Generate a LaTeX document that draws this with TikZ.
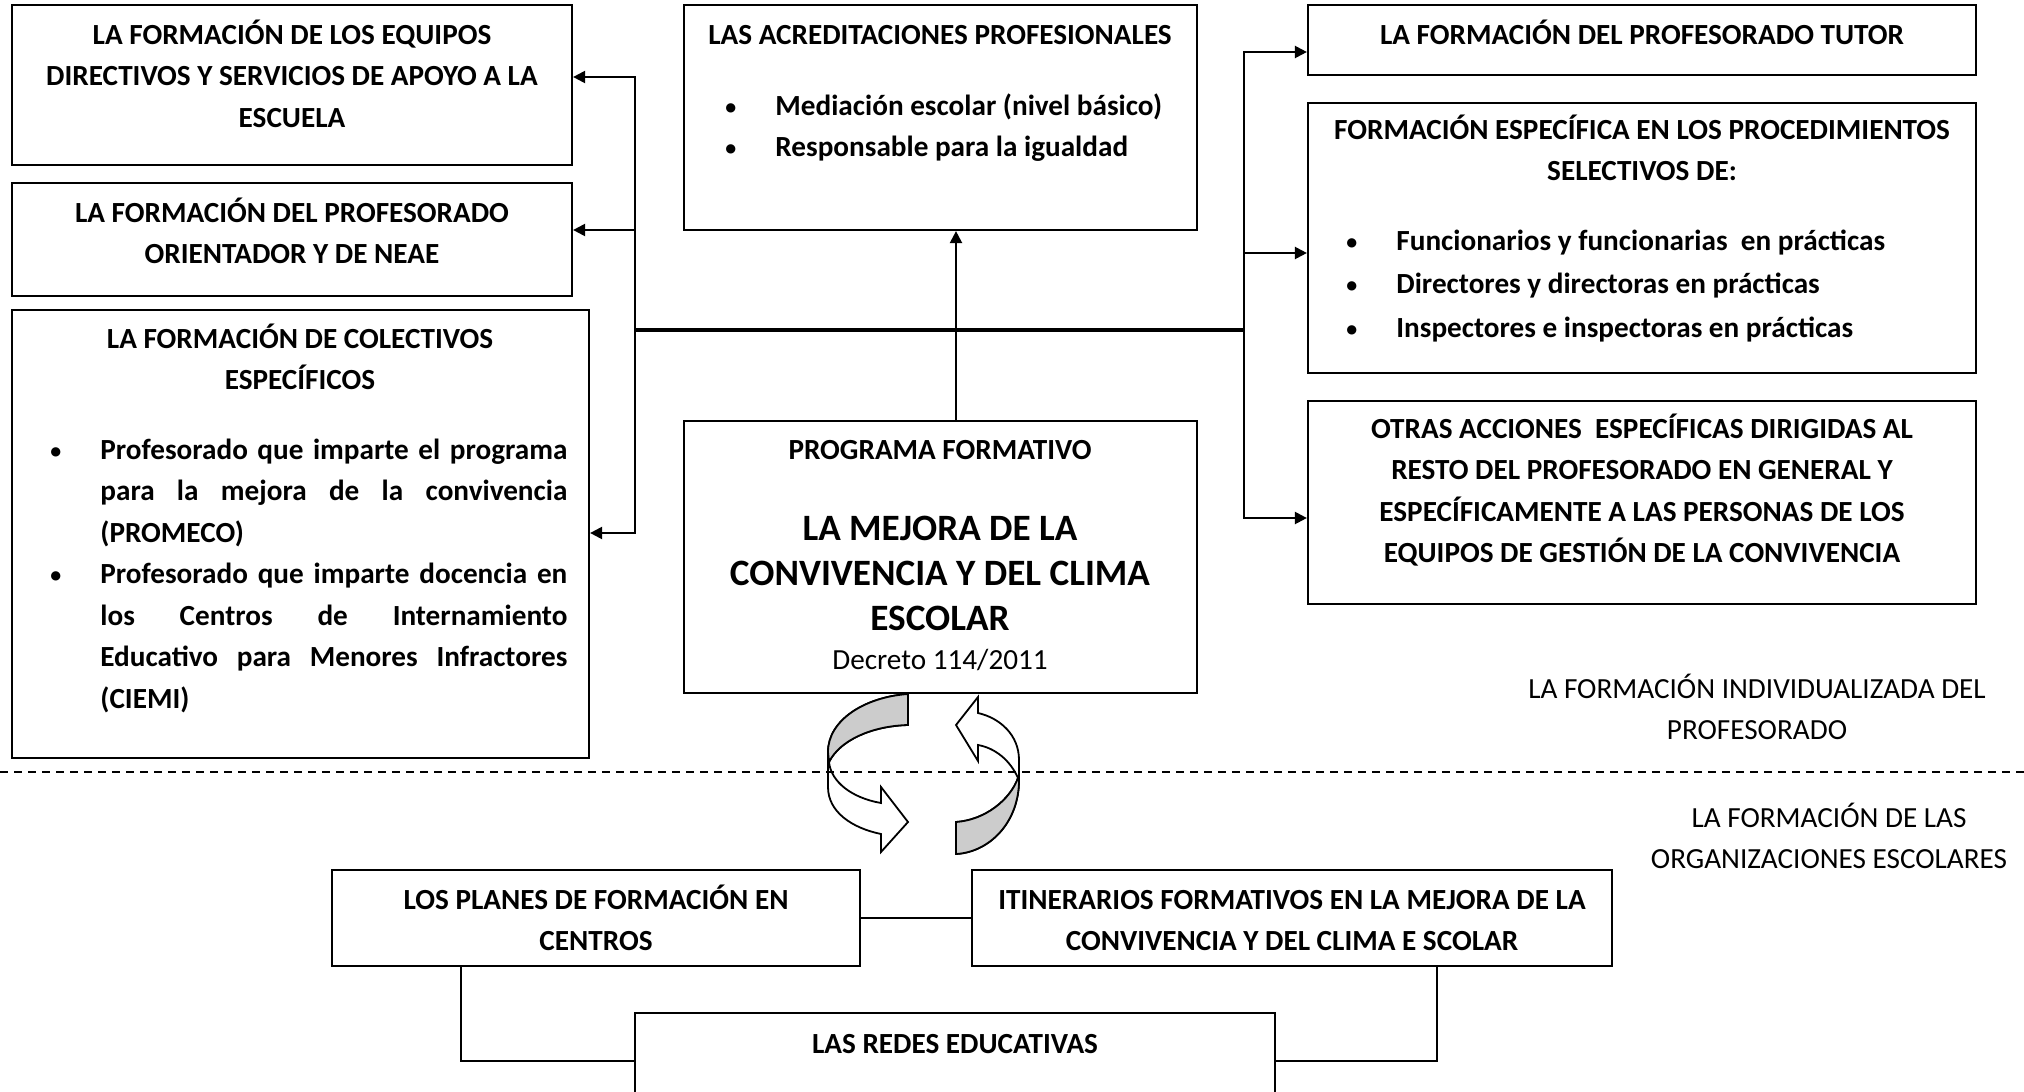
\documentclass[tikz,border=0pt]{standalone}
\usepackage{fontspec}
\setmainfont{Carlito}
\usetikzlibrary{arrows.meta,positioning}

\newcommand{\bul}{\makebox[25pt][l]{\raisebox{0.7pt}{\scalebox{0.75}{\textbullet}}}}
\newcommand{\ind}{\hspace*{25pt}}

\begin{document}
\begin{tikzpicture}[x=0.5pt,y=-0.5pt,
	box/.style={draw,line width=1.1pt,inner sep=0pt},
	txt/.style={font=\fontsize{14.6}{20.75}\selectfont\bfseries,align=center,inner sep=0pt,anchor=base},
	lst/.style={font=\fontsize{14.6}{20.75}\selectfont\bfseries,align=left,inner sep=0pt,anchor=base west},
	reg/.style={font=\fontsize{14.6}{20.5}\selectfont,align=center,inner sep=0pt,anchor=base},
	big/.style={font=\fontsize{18.6}{22.5}\selectfont\bfseries,align=center,inner sep=0pt,anchor=base},
	conn/.style={line width=1.1pt,-{Triangle[length=6pt,width=6pt]}},
	band/.style={draw,line width=0.9pt,fill=white}]
		\clip (0,0) rectangle (2024,1092);

		% left column (text nodes sit on their last base line)
		\node[box,minimum width=280pt,minimum height=80pt] (equipos) at (292,85) {};
		\node[box,minimum width=280pt,minimum height=56.5pt] (orient) at (292,239.5) {};
		\node[box,minimum width=288.5pt,minimum height=224pt] (colect) at (300.5,534) {};
		\node[txt] (equipos-t) at (292,127.4) {LA FORMACIÓN DE LOS EQUIPOS\\DIRECTIVOS Y SERVICIOS DE APOYO A LA\\ESCUELA};
		\node[txt] (orient-t) at (292,263.9) {LA FORMACIÓN DEL PROFESORADO\\ORIENTADOR Y DE NEAE};
		\node[txt] (colect-t) at (300,389.9) {LA FORMACIÓN DE COLECTIVOS\\ESPECÍFICOS};
		\node[lst] (colect-l) at (50,708.4) {\bul\makebox[233.5pt][s]{Profesorado que imparte el programa}\\
			\ind\makebox[233.5pt][s]{para la mejora de la convivencia}\\
			\ind(PROMECO)\\
			\bul\makebox[233.5pt][s]{Profesorado que imparte docencia en}\\
			\ind\makebox[233.5pt][s]{los Centros de Internamiento}\\
			\ind\makebox[233.5pt][s]{Educativo para Menores Infractores}\\
			\ind(CIEMI)};

		% centre column
		\node[box,minimum width=256.5pt,minimum height=112.5pt] (acred) at (940.5,117.5) {};
		\node[box,minimum width=256.5pt,minimum height=136pt] (prog) at (940.5,557) {};
		\node[txt] (acred-t) at (940,44.4) {LAS ACREDITACIONES PROFESIONALES};
		\node[lst] (acred-l) at (725,156.9) {\bul Mediación escolar (nivel básico)\\\bul Responsable para la igualdad};
		\node[txt] (prog-t) at (940,459.4) {PROGRAMA FORMATIVO};
		\node[big] (prog-m) at (940,630) {LA MEJORA DE LA\\CONVIVENCIA Y DEL CLIMA\\ESCOLAR};
		\node[reg] (prog-d) at (940,669.4) {Decreto 114/2011};

		% right column
		\node[box,minimum width=334pt,minimum height=35pt] (tutor) at (1642,40) {};
		\node[box,minimum width=334pt,minimum height=135pt] (especif) at (1642,238) {};
		\node[box,minimum width=334pt,minimum height=101.5pt] (otras) at (1642,502.5) {};
		\node[txt] (tutor-t) at (1642,44.4) {LA FORMACIÓN DEL PROFESORADO TUTOR};
		\node[txt] (especif-t) at (1642,180.9) {FORMACIÓN ESPECÍFICA EN LOS PROCEDIMIENTOS\\SELECTIVOS DE:};
		\node[lst] (especif-l) at (1346,337.4) {\bul Funcionarios y funcionarias~ en prácticas\\[1pt]
			\bul Directores y directoras en prácticas\\[1pt]
			\bul Inspectores e inspectoras en prácticas};
		\node[txt] (otras-t) at (1642,562.9) {OTRAS ACCIONES~ ESPECÍFICAS DIRIGIDAS AL\\RESTO DEL PROFESORADO EN GENERAL Y\\ESPECÍFICAMENTE A LAS PERSONAS DE LOS\\EQUIPOS DE GESTIÓN DE LA CONVIVENCIA};
		\node[reg] (indiv) at (1757,739.4) {LA FORMACIÓN INDIVIDUALIZADA DEL\\PROFESORADO};
		\node[reg] (organiz) at (1829,868.4) {LA FORMACIÓN DE LAS\\ORGANIZACIONES ESCOLARES};

		% bottom row
		\node[box,minimum width=264pt,minimum height=48pt] (planes) at (596,918) {};
		\node[box,minimum width=320pt,minimum height=48pt] (itin) at (1292,918) {};
		\node[box,minimum width=320pt,minimum height=48pt] (redes) at (955,1061) {};
		\node[txt] (planes-t) at (596,950.9) {LOS PLANES DE FORMACIÓN EN\\CENTROS};
		\node[txt] (itin-t) at (1292,950.9) {ITINERARIOS FORMATIVOS EN LA MEJORA DE LA\\CONVIVENCIA Y DEL CLIMA E SCOLAR};
		\node[txt] (redes-t) at (955,1053.4) {LAS REDES EDUCATIVAS};

		% buses
		\coordinate (jl) at (635,330);
		\coordinate (jr) at (1244,330);
		\draw[line width=1.8pt] (jl) -- (jr);
		\foreach \n/\s in {equipos/4pt,orient/4.75pt,colect/0.5pt} { \draw[conn] (jl) |- ([yshift=\s]\n.east);}
		\foreach \n/\s in {tutor/-6pt,especif/-7.5pt,otras/-7.75pt} { \draw[conn] (jr) |- ([yshift=\s]\n.west);}
		\draw[conn] ([xshift=7.75pt]prog.north) -- ([xshift=7.75pt]acred.south);

		\draw[line width=1.1pt] (planes.east) -- (itin.west);
		\draw[line width=1.1pt] ([xshift=-67.5pt]planes.south) |- (redes.west);
		\draw[line width=1.1pt] ([xshift=72.5pt]itin.south) |- (redes.east);

		% round arrows
		\draw[band] (908,694) .. controls (865,697) and (828,720) .. (828,752) -- (828,787) .. controls (828,812) and (852,828) .. (881,834) -- (881,852) -- (908,822) -- (881,787) -- (881,803) .. controls (852,798) and (831,782) .. (829,762) .. controls (840,740) and (872,726) .. (908,725) -- cycle;
		\draw[band,fill=gray!40] (908,694) .. controls (865,697) and (828,720) .. (828,752) -- (829,762) .. controls (840,740) and (872,726) .. (908,725) -- cycle;
		\draw[band] (978,713) .. controls (1000,718) and (1019,735) .. (1019,760) -- (1019,780) .. controls (1019,822) and (990,852) .. (956,854) -- (956,822) .. controls (985,820) and (1010,800) .. (1018,778) .. controls (1010,760) and (995,748) .. (978,745) -- (978,761) -- (956,725) -- (978,697) -- cycle;
		\draw[band,fill=gray!40] (1019,780) .. controls (1019,822) and (990,852) .. (956,854) -- (956,822) .. controls (985,820) and (1010,800) .. (1018,778) -- cycle;

		\draw[line width=0.9pt,dash pattern=on 4pt off 3pt] (0,772) -- (2024,772);
	\end{tikzpicture}
\end{document}
